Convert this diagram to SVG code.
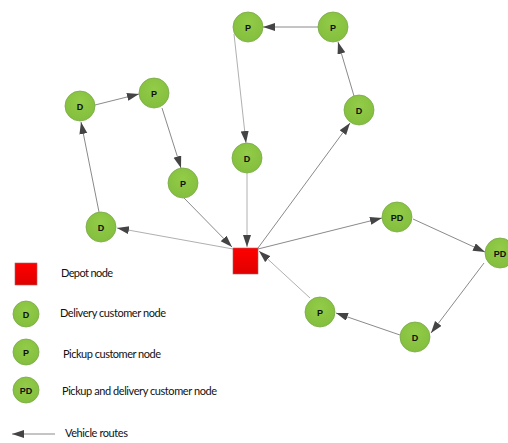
<svg xmlns="http://www.w3.org/2000/svg" width="508" height="443" viewBox="0 0 508 443">
<style>
.n circle{fill:url(#g);stroke:#7aa84a;stroke-width:0.8}
.n text{font-family:"Liberation Sans",Arial,sans-serif;font-weight:bold;font-size:9px;fill:#111;text-anchor:middle}
.e{stroke:#8a8a8a;stroke-width:1;fill:none;marker-end:url(#a)}
.e.lt{stroke:#b0b0b0}
.l{font-family:Lato,"Liberation Sans",sans-serif;font-size:11px;fill:#111}
.dep{fill:url(#r);stroke:#b06060;stroke-width:0.6}
</style>
<defs>
<radialGradient id="g" cx="0.5" cy="0.35" r="0.7">
<stop offset="0" stop-color="#92cc48"/>
<stop offset="1" stop-color="#82bd3c"/>
</radialGradient>
<linearGradient id="r" x1="0" y1="0" x2="0" y2="1">
<stop offset="0" stop-color="#ff0000"/>
<stop offset="1" stop-color="#e00000"/>
</linearGradient>
<marker id="a" markerUnits="userSpaceOnUse" markerWidth="13" markerHeight="9" refX="12" refY="4" orient="auto">
<path d="M0,0 L12,4 L0,8 z" fill="#444"/>
</marker>
</defs>
<g id="connectors">
<line class="e" x1="318" y1="27" x2="263" y2="27"/>
<line class="e" x1="354" y1="96" x2="338" y2="42"/>
<line class="e" x1="258" y1="248" x2="350" y2="123"/>
<line class="e lt" x1="234" y1="34" x2="246" y2="143"/>
<line class="e lt" x1="247" y1="173" x2="247" y2="247"/>
<line class="e" x1="184" y1="198" x2="232" y2="247"/>
<line class="e lt" x1="233" y1="249" x2="117" y2="228"/>
<line class="e" x1="99" y1="212" x2="81" y2="122"/>
<line class="e" x1="95" y1="105" x2="139" y2="94"/>
<line class="e" x1="162" y1="108" x2="181" y2="168"/>
<line class="e" x1="258" y1="249" x2="382" y2="218"/>
<line class="e" x1="413" y1="219" x2="485" y2="252"/>
<line class="e" x1="484" y1="263" x2="431" y2="333"/>
<line class="e" x1="400" y1="335" x2="336" y2="313"/>
<line class="e lt" x1="310" y1="298" x2="259" y2="251"/>
</g>
<g id="depot"><rect class="dep" x="233" y="248" width="25" height="26"/></g>
<g id="n1" class="n"><circle cx="248" cy="27" r="15"/><text x="248" y="30.5">P</text></g>
<g id="n2" class="n"><circle cx="333" cy="27" r="15"/><text x="333" y="30.5">P</text></g>
<g id="n3" class="n"><circle cx="359" cy="110" r="15"/><text x="359" y="113.5">D</text></g>
<g id="n4" class="n"><circle cx="247" cy="158" r="15"/><text x="247" y="161.5">D</text></g>
<g id="n5" class="n"><circle cx="80" cy="106" r="15"/><text x="80" y="109.5">D</text></g>
<g id="n6" class="n"><circle cx="154" cy="93" r="15"/><text x="154" y="96.5">P</text></g>
<g id="n7" class="n"><circle cx="183" cy="183" r="15"/><text x="183" y="186.5">P</text></g>
<g id="n8" class="n"><circle cx="101" cy="227" r="15"/><text x="101" y="230.5">D</text></g>
<g id="n9" class="n"><circle cx="397" cy="217" r="15"/><text x="397" y="220.5">PD</text></g>
<g id="n10" class="n"><circle cx="500" cy="253" r="15"/><text x="500" y="256.5">PD</text></g>
<g id="n11" class="n"><circle cx="415" cy="337" r="15"/><text x="415" y="340.5">D</text></g>
<g id="n12" class="n"><circle cx="320" cy="312" r="15"/><text x="320" y="315.5">P</text></g>
<g id="legend">
<rect class="dep" x="15" y="263" width="22" height="22"/>
<text class="l" x="61" y="277" textLength="52">Depot node</text>
<g class="n"><circle cx="26" cy="314" r="13"/><text x="26" y="317.5">D</text></g>
<text class="l" x="60" y="317" textLength="106">Delivery customer node</text>
<g class="n"><circle cx="26" cy="352" r="13"/><text x="26" y="355.5">P</text></g>
<text class="l" x="63" y="358" textLength="98">Pickup customer node</text>
<g class="n"><circle cx="26" cy="390" r="13"/><text x="26" y="393.5">PD</text></g>
<text class="l" x="62" y="395" textLength="155">Pickup and delivery customer node</text>
<line class="e" x1="55" y1="434" x2="12" y2="434"/>
<text class="l" x="65" y="437" textLength="63">Vehicle routes</text>
</g>
</svg>
